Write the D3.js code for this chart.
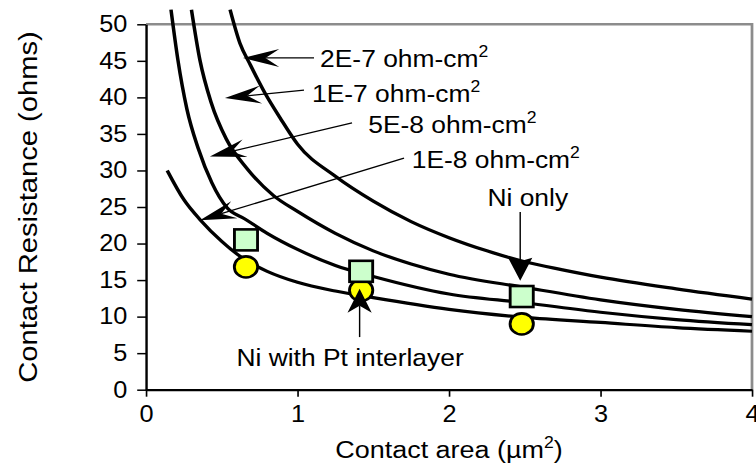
<!DOCTYPE html>
<html>
<head>
<meta charset="utf-8">
<script src="https://cdn.jsdelivr.net/npm/d3@7.9.0/dist/d3.min.js"></script>
<style>
  html, body { margin: 0; padding: 0; background: #fff; }
  svg { display: block; font-family: "Liberation Sans", Arial, sans-serif; }
</style>
</head>
<body>
<div id="chart"></div>
<script>
// contact resistance curves: [contact area (um^2), resistance (ohms)]
const curve2e7 = [[0.555, 52.0], [0.62, 47.4], [0.69, 44.4], [0.785, 40.6], [0.885, 37.2], [1.0, 33.6],
  [1.25, 29.2], [1.5, 25.8], [1.75, 23.0], [2.0, 20.8], [2.25, 19.0], [2.5, 17.5], [2.75, 16.4],
  [3.0, 15.4], [3.5, 13.8], [4.0, 12.4]];
const curve1e7 = [[0.30, 52.0], [0.356, 45.1], [0.43, 39.3], [0.53, 34.3], [0.665, 30.3], [0.84, 26.6],
  [1.0, 24.4], [1.25, 21.4], [1.5, 19.0], [1.75, 17.2], [2.0, 15.8], [2.5, 14.0], [3.0, 12.3],
  [3.5, 11.0], [4.0, 10.0]];
const curve5e8 = [[0.165, 52.0], [0.21, 45.2], [0.27, 38.4], [0.345, 33.0], [0.435, 28.3], [0.535, 24.9],
  [0.65, 23.4], [0.8, 21.4], [1.0, 19.2], [1.25, 17.0], [1.5, 15.5], [2.0, 13.1], [2.5, 11.9],
  [3.0, 10.6], [3.5, 9.6], [4.0, 8.9]];
const curve1e8 = [[0.14, 30.0], [0.25, 26.0], [0.36, 23.2], [0.5, 20.3], [0.66, 17.7], [0.8, 16.2],
  [1.0, 14.7], [1.25, 13.5], [1.5, 12.6], [2.0, 11.0], [2.5, 9.9], [3.0, 9.2], [3.5, 8.5], [4.0, 8.0]];

// measured contacts
const niOnly = [[0.66, 20.5], [1.42, 16.2], [2.48, 12.75]];
const niPt = [[0.66, 16.8], [1.42, 13.6], [2.48, 9.0]];

const xTicks = [0, 1, 2, 3, 4];
const yTicks = [0, 5, 10, 15, 20, 25, 30, 35, 40, 45, 50];

// curve labels (text start, line start, arrow tip) in data units
const curveLabels = ['2E-7 ohm-cm', '1E-7 ohm-cm', '5E-8 ohm-cm', '1E-8 ohm-cm'];
const labelTextAt = [[1.149, 44.2], [1.096, 39.4], [1.467, 35.1], [1.754, 30.3]];
const labelLineFrom = [[1.109, 45.4], [1.043, 41.0], [1.36, 36.5], [1.703, 31.7]];
const labelTip = [[0.640, 45.4], [0.521, 39.9], [0.422, 31.9], [0.356, 23.2]];

// the original picture is a bit wider than tall, stretch it the same way
const kx = 1.1;
const width = 756 / kx;
const height = 466;

const svg = d3.select('#chart')
  .append('svg')
  .attr('width', 756)
  .attr('height', height)
  .attr('viewBox', `0 0 ${width} ${height}`)
  .attr('preserveAspectRatio', 'none');

const x = d3.scaleLinear().domain([0, 4]).range([146 / kx, 752 / kx]);
const y = d3.scaleLinear().domain([0, 50]).range([389.7, 24.3]);

// grey frame on top and right
svg.append('path')
  .attr('d', `M${x(0)},${y(50)}H${x(4)}V${y(0)}`)
  .attr('fill', 'none')
  .attr('stroke', '#8c8c8c')
  .attr('stroke-width', 2.5);

// curves
const line = d3.line()
  .x((d) => x(d[0]))
  .y((d) => y(d[1]))
  .curve(d3.curveMonotoneX);

svg.append('g')
  .selectAll('path')
  .data([curve2e7, curve1e7, curve5e8, curve1e8])
  .join('path')
  .attr('d', line)
  .attr('fill', 'none')
  .attr('stroke', '#000')
  .attr('stroke-width', 3.2);

// axes
const yAxis = svg.append('g')
  .attr('transform', `translate(${x(0)},0)`)
  .call(d3.axisLeft(y).tickValues(yTicks).tickSize(8).tickSizeOuter(0).tickPadding(9));

const xAxis = svg.append('g')
  .attr('transform', `translate(0,${y(0)})`)
  .call(d3.axisBottom(x).tickValues(xTicks).tickFormat(d3.format('d'))
    .tickSize(7).tickSizeOuter(0).tickPadding(9));

[xAxis, yAxis].forEach((g) => {
  g.select('.domain').attr('stroke', '#000').attr('stroke-width', 2.2);
  g.selectAll('.tick line').attr('stroke', '#000').attr('stroke-width', 1.5);
  g.selectAll('.tick text')
    .attr('fill', '#000')
    .style('font-size', '23px')
    .style('font-family', '"Liberation Sans", Arial, sans-serif');
});

// markers
svg.append('g')
  .selectAll('circle')
  .data(niPt)
  .join('circle')
  .attr('cx', (d) => x(d[0]))
  .attr('cy', (d) => y(d[1]))
  .attr('r', 10.6)
  .attr('fill', '#ffff00')
  .attr('stroke', '#000')
  .attr('stroke-width', 2.6);

const sq = 21;
svg.append('g')
  .selectAll('rect')
  .data(niOnly)
  .join('rect')
  .attr('x', (d) => x(d[0]) - sq / 2)
  .attr('y', (d) => y(d[1]) - sq / 2)
  .attr('width', sq)
  .attr('height', sq)
  .attr('fill', '#ccffcc')
  .attr('stroke', '#000')
  .attr('stroke-width', 2.6);

// arrow: line from p0 to p1 with a notched head at p1
function arrow(p0, p1, len, half, notch, lw) {
  const x0 = x(p0[0]), y0 = y(p0[1]);
  const x1 = x(p1[0]), y1 = y(p1[1]);
  const dx = x1 - x0, dy = y1 - y0;
  const d = Math.hypot(dx, dy);
  const ux = dx / d, uy = dy / d;
  const vx = -uy, vy = ux;
  const bx = x1 - len * ux, by = y1 - len * uy;
  const nx = x1 - notch * len * ux, ny = y1 - notch * len * uy;
  svg.append('line')
    .attr('x1', x0).attr('y1', y0)
    .attr('x2', nx).attr('y2', ny)
    .attr('stroke', '#000')
    .attr('stroke-width', lw);
  svg.append('path')
    .attr('d', `M${x1},${y1}L${bx + half * vx},${by + half * vy}L${nx},${ny}L${bx - half * vx},${by - half * vy}Z`)
    .attr('fill', '#000');
}

function labelText(p, txt, anchor, sup) {
  const t = svg.append('text')
    .attr('x', x(p[0]))
    .attr('y', y(p[1]))
    .attr('text-anchor', anchor)
    .attr('fill', '#000')
    .style('font-size', '24px');
  t.append('tspan').text(txt);
  if (sup) {
    t.append('tspan').attr('dy', -10).style('font-size', '16px').text('2');
  }
  return t;
}

curveLabels.forEach((txt, i) => {
  arrow(labelLineFrom[i], labelTip[i], 33, 9, 0.62, 1.3);
  labelText(labelTextAt[i], txt, 'start', true);
});

// series annotations
arrow([2.47, 24.3], [2.47, 14.9], 23, 11, 0.85, 1.3);
labelText([2.52, 25.1], 'Ni only', 'middle', false);

arrow([1.41, 7.2], [1.41, 13.8], 24, 11, 0.7, 1.3);
labelText([1.347, 3.24], 'Ni with Pt interlayer', 'middle', false);

// axis titles
const xt = svg.append('text')
  .attr('x', x(2))
  .attr('y', 458)
  .attr('text-anchor', 'middle')
  .style('font-size', '24.5px');
xt.append('tspan').text('Contact area (\u00b5m');
xt.append('tspan').attr('dy', -10).style('font-size', '16px').text('2');
xt.append('tspan').attr('dy', 10).text(')');

// rotated title: undo the horizontal stretch and stretch along its length instead
svg.append('text')
  .attr('transform', `translate(${37 / kx},${(y(0) + y(50)) / 2}) rotate(-90) scale(${kx},${1 / kx})`)
  .attr('text-anchor', 'middle')
  .style('font-size', '26.5px')
  .text('Contact Resistance (ohms)');
</script>
</body>
</html>
